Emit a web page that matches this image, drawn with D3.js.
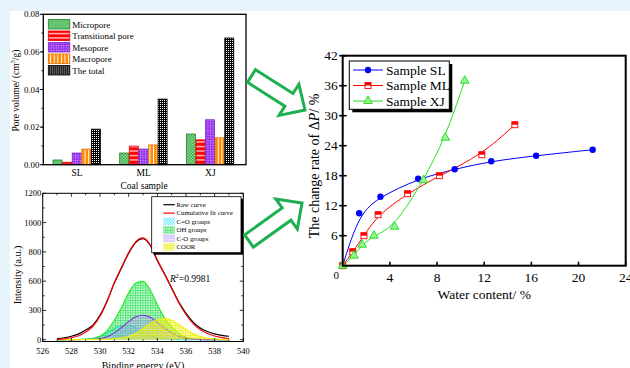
<!DOCTYPE html>
<html>
<head>
<meta charset="utf-8">
<script src="https://cdn.jsdelivr.net/npm/d3@7"></script>
<style>
  body { margin: 0; }
  text { font-family: "Liberation Serif", "Times New Roman", serif; fill: #000; }
</style>
</head>
<body>
<script>
// ---- pore volume bars (top left)
const poreSamples = ["SL", "ML", "XJ"];
const poreTypes = ["Micropore", "Transitional pore", "Mesopore", "Macropore", "The total"];
const micropore = [0.0025, 0.0062, 0.0163];
const transitionalPore = [0.0013, 0.0099, 0.0132];
const mesopore = [0.0062, 0.0083, 0.0239];
const macropore = [0.0083, 0.0105, 0.0143];
const totalPore = [0.0189, 0.0349, 0.0674];
const poreTicks = [0, 0.02, 0.04, 0.06, 0.08];

// ---- XPS O1s fit (bottom left)
const bindingEnergy = [527, 527.5, 528, 528.5, 529, 529.5, 530, 530.5, 531, 531.5, 532, 532.5, 533,
  533.5, 534, 534.5, 535, 535.5, 536, 536.5, 537, 537.5, 538, 538.5, 539];
const rawCurve = [10, 20, 35, 60, 100, 150, 250, 400, 580, 690, 790, 865, 890, 845, 740, 650, 530, 385, 270, 180, 120, 84, 60, 45, 35];
const fitCurve = [4, 9, 20, 40, 78, 138, 240, 395, 585, 695, 795, 870, 895, 848, 745, 648, 525, 378, 258, 165, 103, 64, 38, 22, 12];
const coDouble = [0, 0, 1, 2, 6, 15, 35, 70, 115, 148, 150, 120, 80, 45, 20, 8, 3, 1, 0, 0, 0, 0, 0, 0, 0];
const ohGroups = [0, 0, 0, 1, 3, 9, 35, 95, 200, 330, 480, 580, 598, 510, 360, 225, 128, 62, 26, 9, 3, 1, 0, 0, 0];
const coSingle = [0, 0, 0, 1, 2, 4, 10, 30, 70, 125, 185, 235, 250, 230, 180, 120, 70, 36, 16, 6, 2, 1, 0, 0, 0];
const coorGroups = [1, 1, 1, 1, 2, 3, 4, 6, 10, 18, 35, 65, 115, 165, 205, 220, 200, 155, 105, 62, 32, 15, 7, 3, 1];
const xpsXTicks = [526, 528, 530, 532, 534, 536, 538, 540];
const xpsYTicks = [0, 300, 600, 800, 1000, 1200];

// ---- change rate of dP (right)
const slWater = [0, 1.4, 3.2, 6.4, 9.5, 12.6, 16.4, 21.2];
const slRate = [0, 10.5, 13.8, 17.4, 19.3, 20.9, 22.0, 23.2];
const mlWater = [0, 0.85, 1.8, 3.0, 5.5, 8.2, 11.8, 14.6];
const mlRate = [0, 2.8, 6.0, 10.2, 14.4, 18.0, 22.2, 28.2];
const xjWater = [0, 0.95, 1.65, 2.65, 4.4, 6.85, 8.7, 10.35];
const xjRate = [0, 2.0, 4.2, 6.0, 7.8, 17.1, 25.6, 37.0];
const waterTicks = [4, 8, 12, 16, 20, 24];
const rateTicks = [6, 12, 18, 24, 30, 36, 42];

const svg = d3.select("body").append("svg")
  .attr("width", 630).attr("height", 368);

svg.append("rect").attr("width", 630).attr("height", 368).attr("fill", "#e8f4fc");
svg.append("rect").attr("x", 10).attr("y", 11).attr("width", 620).attr("height", 357).attr("fill", "#fff");

const defs = svg.append("defs");

function makePattern(id, w, h, bg, draw) {
  const p = defs.append("pattern").attr("id", id).attr("patternUnits", "userSpaceOnUse")
    .attr("width", w).attr("height", h);
  if (bg) p.append("rect").attr("width", w).attr("height", h).attr("fill", bg);
  draw(p);
}
// bar patterns
makePattern("pMicro", 3, 3, "#3fae4f", p => {
  p.append("rect").attr("width", 1.5).attr("height", 1.5).attr("fill", "#8fd98f");
  p.append("rect").attr("x", 1.5).attr("y", 1.5).attr("width", 1.5).attr("height", 1.5).attr("fill", "#8fd98f");
});
makePattern("pTrans", 4, 4.5, "#ff0000", p => {
  p.append("rect").attr("y", 2).attr("width", 4).attr("height", 1.1).attr("fill", "#fff");
});
makePattern("pMeso", 2.5, 2.5, "#9933ee", p => {
  p.append("rect").attr("width", 1).attr("height", 1).attr("fill", "#e0c0ff");
});
makePattern("pMacro", 3.6, 4, "#ff8800", p => {
  p.append("rect").attr("x", 1.8).attr("width", 1).attr("height", 4).attr("fill", "#fff");
});
makePattern("pTotal", 2, 2, "#000", p => {
  p.append("rect").attr("width", 1).attr("height", 1).attr("fill", "#fff");
});
// xps patterns
makePattern("xCO2", 3, 3, "rgba(120,240,255,0.35)", p => {
  p.append("path").attr("d", "M0,3L3,0").attr("stroke", "#00d8ff").attr("stroke-width", 0.6);
});
makePattern("xOH", 2.5, 2.5, "rgba(120,240,140,0.35)", p => {
  p.append("path").attr("d", "M0,0.5H2.5M0.5,0V2.5").attr("stroke", "#22dd55").attr("stroke-width", 0.6);
});
makePattern("xCO", 3, 2.5, "rgba(200,170,255,0.25)", p => {
  p.append("path").attr("d", "M0,1H3").attr("stroke", "#9c7cff").attr("stroke-width", 0.6);
});
makePattern("xCOOR", 2.5, 2.5, "rgba(255,255,80,0.35)", p => {
  p.append("path").attr("d", "M0,0.5H2.5M0.5,0V2.5").attr("stroke", "#e8e800").attr("stroke-width", 0.6);
});

// =================== pore volume chart
(function () {
  const left = 43.3, right = 246, top = 14.3, bottom = 164.7;
  const g = svg.append("g");
  const series = [micropore, transitionalPore, mesopore, macropore, totalPore];
  const fills = ["url(#pMicro)", "url(#pTrans)", "url(#pMeso)", "url(#pMacro)", "url(#pTotal)"];
  const strokes = ["#1f7f2a", "#e00000", "#7a22cc", "#e07000", "#000"];

  const x0 = d3.scaleBand().domain(poreSamples).range([left + 0.4, right - 2.3])
    .paddingInner(0.28).paddingOuter(0.14);
  const x1 = d3.scaleBand().domain(poreTypes).range([0, x0.bandwidth()]);
  const y = d3.scaleLinear().domain([0, 0.08]).range([bottom, top]);

  series.forEach(function (vals, k) {
    g.selectAll(".bar" + k)
      .data(vals)
      .enter()
      .append("rect")
      .attr("x", (d, i) => x0(poreSamples[i]) + x1(poreTypes[k]))
      .attr("y", d => y(d))
      .attr("width", x1.bandwidth() - 0.6)
      .attr("height", d => y(0) - y(d))
      .attr("fill", fills[k])
      .attr("stroke", strokes[k])
      .attr("stroke-width", 0.8);
  });

  g.append("rect").attr("x", left).attr("y", top).attr("width", right - left).attr("height", bottom - top)
    .attr("fill", "none").attr("stroke", "#000").attr("stroke-width", 1.3);

  // y axis
  const minor = d3.range(0, 0.0801, 0.01);
  g.selectAll(".ymin").data(minor).enter().append("line")
    .attr("x1", left - 2).attr("x2", left).attr("y1", d => y(d)).attr("y2", d => y(d))
    .attr("stroke", "#000").attr("stroke-width", 0.8);
  g.selectAll(".ymaj").data(poreTicks).enter().append("line")
    .attr("x1", left - 3.5).attr("x2", left).attr("y1", d => y(d)).attr("y2", d => y(d))
    .attr("stroke", "#000").attr("stroke-width", 1);
  g.selectAll(".ylab").data(poreTicks).enter().append("text")
    .attr("x", left - 4).attr("y", d => y(d) + 3).attr("text-anchor", "end")
    .attr("font-size", 8.8).text(d3.format(".2f"));

  g.selectAll(".xlab").data(poreSamples).enter().append("text")
    .attr("x", d => x0(d) + x0.bandwidth() / 2).attr("y", bottom + 11)
    .attr("text-anchor", "middle").attr("font-size", 9.5).text(d => d);

  g.append("text").attr("x", 144).attr("y", 188.5).attr("text-anchor", "middle")
    .attr("font-size", 9.5).text("Coal sample");

  const yt = g.append("text").attr("transform", "translate(18.5,90.5) rotate(-90)")
    .attr("text-anchor", "middle").attr("font-size", 9.5);
  yt.append("tspan").text("Pore volume/ (cm");
  yt.append("tspan").attr("font-size", 6.5).attr("dy", -3.5).text("3");
  yt.append("tspan").attr("dy", 3.5).text("/g)");

  // legend
  const lg = g.selectAll(".leg").data(poreTypes).enter().append("g")
    .attr("transform", (d, i) => `translate(48.3,${19.5 + i * 11.5})`);
  lg.append("rect").attr("width", 21.5).attr("height", 9.5)
    .attr("fill", (d, i) => fills[i]).attr("stroke", (d, i) => strokes[i]).attr("stroke-width", 0.8);
  lg.append("text").attr("x", 24).attr("y", 8).attr("font-size", 9).text(d => d);
})();

// =================== XPS chart
(function () {
  const left = 42.7, right = 243.3, top = 193.3, y0px = 339.7, bottom = 341.5;
  const g = svg.append("g");
  const x = d3.scaleLinear().domain([526, 540]).range([left, right]);
  const step = (y0px - top) / (xpsYTicks.length - 1);
  const y = d3.scaleLinear().domain(xpsYTicks).range(xpsYTicks.map((d, i) => y0px - i * step));

  g.append("clipPath").attr("id", "xpsClip").append("rect")
    .attr("x", left).attr("y", top).attr("width", right - left).attr("height", bottom - top);
  const plot = g.append("g").attr("clip-path", "url(#xpsClip)");

  const comps = [
    { vals: coDouble, fill: "url(#xCO2)", line: "#00e0ff" },
    { vals: ohGroups, fill: "url(#xOH)", line: "#22ee22" },
    { vals: coSingle, fill: "url(#xCO)", line: "#8a2be2" },
    { vals: coorGroups, fill: "url(#xCOOR)", line: "#f0f000" }
  ];
  comps.forEach(function (c) {
    const pts = bindingEnergy.map((e, i) => [e, c.vals[i]]);
    plot.append("path").datum(pts)
      .attr("d", d3.area().x(d => x(d[0])).y0(y(0)).y1(d => y(d[1])).curve(d3.curveMonotoneX))
      .attr("fill", c.fill);
    plot.append("path").datum(pts)
      .attr("d", d3.line().x(d => x(d[0])).y(d => y(d[1])).curve(d3.curveMonotoneX))
      .attr("fill", "none").attr("stroke", c.line).attr("stroke-width", 1.1);
  });
  [[rawCurve, "#000"], [fitCurve, "#ff0000"]].forEach(function (c) {
    const pts = bindingEnergy.map((e, i) => [e, c[0][i]]);
    plot.append("path").datum(pts)
      .attr("d", d3.line().x(d => x(d[0])).y(d => y(d[1])).curve(d3.curveMonotoneX))
      .attr("fill", "none").attr("stroke", c[1]).attr("stroke-width", 1.2);
  });

  g.append("rect").attr("x", left).attr("y", top).attr("width", right - left).attr("height", bottom - top)
    .attr("fill", "none").attr("stroke", "#000").attr("stroke-width", 1);

  // ticks (inward) on all four sides
  const xMinor = d3.range(526, 540.01, 1);
  const tick = (x1, y1, x2, y2) => g.append("line").attr("x1", x1).attr("y1", y1).attr("x2", x2).attr("y2", y2)
    .attr("stroke", "#000").attr("stroke-width", 0.8);
  xMinor.forEach(function (d) {
    const len = xpsXTicks.includes(d) ? 3.5 : 2;
    tick(x(d), bottom, x(d), bottom - len);
    tick(x(d), top, x(d), top + len);
  });
  xpsYTicks.forEach(function (d, i) {
    tick(left, y(d), left + 3.5, y(d));
    tick(right, y(d), right - 3.5, y(d));
    if (i > 0) {
      const m = y0px - (i - 0.5) * step;
      tick(left, m, left + 2, m);
      tick(right, m, right - 2, m);
    }
  });
  g.selectAll(".xl").data(xpsXTicks).enter().append("text")
    .attr("x", d => x(d)).attr("y", 354).attr("text-anchor", "middle").attr("font-size", 8.5).text(d => d);
  g.selectAll(".yl").data(xpsYTicks).enter().append("text")
    .attr("x", left - 1.5).attr("y", d => y(d) + 3).attr("text-anchor", "end").attr("font-size", 8.5).text(d => d);

  g.append("text").attr("x", 143).attr("y", 369).attr("text-anchor", "middle").attr("font-size", 10)
    .text("Binding energy (eV)");
  g.append("text").attr("transform", "translate(21,275) rotate(-90)").attr("text-anchor", "middle")
    .attr("font-size", 10).text("Intensity (a.u.)");

  const r2 = g.append("text").attr("x", 170).attr("y", 281.5).attr("font-size", 9.5);
  r2.append("tspan").attr("font-style", "italic").text("R");
  r2.append("tspan").attr("font-size", 6).attr("dy", -3.5).text("2");
  r2.append("tspan").attr("dy", 3.5).text("=0.9981");

  // legend
  const lx = 151.7, ly = 196.7, lw = 89.3, lh = 56;
  g.append("rect").attr("x", lx + 2).attr("y", ly + 2).attr("width", lw).attr("height", lh).attr("fill", "#000");
  g.append("rect").attr("x", lx).attr("y", ly).attr("width", lw).attr("height", lh)
    .attr("fill", "#fff").attr("stroke", "#000").attr("stroke-width", 0.8);
  const labels = ["Raw curve", "Cumulative fit curve", "C=O groups", "OH groups", "C-O groups", "COOR"];
  const legFill = [null, null, "url(#xCO2)", "url(#xOH)", "url(#xCO)", "url(#xCOOR)"];
  const legLine = ["#000", "#ff0000", "#bff4ff", "#a8f0b8", "#d8ccff", "#fafa90"];
  labels.forEach(function (t, i) {
    const ry = ly + 8 + i * 8.4;
    if (legFill[i]) {
      g.append("rect").attr("x", 163.3).attr("y", ry - 3.6).attr("width", 11.5).attr("height", 7.2)
        .attr("fill", legFill[i]).attr("stroke", legLine[i]).attr("stroke-width", 0.5);
    } else {
      g.append("line").attr("x1", 163.3).attr("x2", 174.8).attr("y1", ry).attr("y2", ry)
        .attr("stroke", legLine[i]).attr("stroke-width", 1.2);
    }
    g.append("text").attr("x", 176.5).attr("y", ry + 2.3).attr("font-size", 6.8).text(t);
  });
})();

// =================== change rate chart
(function () {
  const left = 342.7, right = 625.7, top = 55.7, bottom = 265.7;
  const g = svg.append("g");
  const x = d3.scaleLinear().domain([0, 24]).range([left, right]);
  const y = d3.scaleLinear().domain([0, 42]).range([bottom, top]);

  const samples = [
    { name: "Sample SL", xs: slWater, ys: slRate, color: "#0000ff", mark: "circle" },
    { name: "Sample ML", xs: mlWater, ys: mlRate, color: "#ff0000", mark: "square" },
    { name: "Sample XJ", xs: xjWater, ys: xjRate, color: "#22e022", mark: "triangle" }
  ];

  function marker(sel, s, cx, cy) {
    if (s.mark === "circle") {
      sel.append("circle").attr("cx", cx).attr("cy", cy).attr("r", 3.2).attr("fill", s.color);
    } else if (s.mark === "square") {
      sel.append("rect").attr("x", cx - 3).attr("y", cy - 3).attr("width", 6).attr("height", 6)
        .attr("fill", "#fff").attr("stroke", s.color).attr("stroke-width", 0.9);
      sel.append("rect").attr("x", cx - 3).attr("y", cy - 3).attr("width", 6).attr("height", 3)
        .attr("fill", s.color);
    } else {
      sel.append("path").attr("d", d3.symbol(d3.symbolTriangle, 32)())
        .attr("transform", `translate(${cx},${cy})`)
        .attr("fill", "#9cf59c").attr("stroke", s.color).attr("stroke-width", 1);
    }
  }

  samples.forEach(function (s) {
    const pts = s.xs.map((v, i) => [v, s.ys[i]]);
    g.append("path").datum(pts)
      .attr("d", d3.line().x(d => x(d[0])).y(d => y(d[1])).curve(d3.curveBasis))
      .attr("fill", "none").attr("stroke", s.color).attr("stroke-width", 1);
  });
  samples.forEach(function (s) {
    s.xs.forEach((v, i) => marker(g, s, x(v), y(s.ys[i])));
  });

  g.append("rect").attr("x", left).attr("y", top).attr("width", right - left).attr("height", bottom - top)
    .attr("fill", "none").attr("stroke", "#000").attr("stroke-width", 2);

  g.selectAll(".xt").data(waterTicks).enter().append("line")
    .attr("x1", d => x(d)).attr("x2", d => x(d)).attr("y1", bottom).attr("y2", bottom - 4)
    .attr("stroke", "#000").attr("stroke-width", 1.6);
  g.selectAll(".yt").data(rateTicks).enter().append("line")
    .attr("x1", left - 3.5).attr("x2", left + 4).attr("y1", d => y(d)).attr("y2", d => y(d))
    .attr("stroke", "#000").attr("stroke-width", 1.6);

  g.selectAll(".xl").data(waterTicks).enter().append("text")
    .attr("x", d => x(d)).attr("y", bottom + 16).attr("text-anchor", "middle").attr("font-size", 13.5).text(d => d);
  g.selectAll(".yl").data(rateTicks).enter().append("text")
    .attr("x", left - 5).attr("y", d => y(d) + 4.5).attr("text-anchor", "end").attr("font-size", 13.5).text(d => d);
  g.append("text").attr("x", x(0) - 6.5).attr("y", y(0) + 13).attr("text-anchor", "middle")
    .attr("font-size", 11).text("0");

  g.append("text").attr("x", (left + right) / 2).attr("y", 298.5).attr("text-anchor", "middle")
    .attr("font-size", 13.5).text("Water content/ %");
  const yt = g.append("text").attr("transform", "translate(319,166) rotate(-90)")
    .attr("text-anchor", "middle").attr("font-size", 14);
  yt.append("tspan").text("The change rate of \u0394");
  yt.append("tspan").attr("font-style", "italic").text("P");
  yt.append("tspan").text("/ %");

  // legend
  const lx = 349.3, ly = 61, lw = 100, lh = 48.3;
  g.append("rect").attr("x", lx + 3).attr("y", ly + 3).attr("width", lw).attr("height", lh).attr("fill", "#000");
  g.append("rect").attr("x", lx).attr("y", ly).attr("width", lw).attr("height", lh)
    .attr("fill", "#fff").attr("stroke", "#000").attr("stroke-width", 1);
  samples.forEach(function (s, i) {
    const ry = 70 + i * 15.5;
    g.append("line").attr("x1", 353).attr("x2", 383).attr("y1", ry).attr("y2", ry)
      .attr("stroke", s.color).attr("stroke-width", 1);
    marker(g, s, 368, ry);
    g.append("text").attr("x", 386).attr("y", ry + 4.5).attr("font-size", 13.5).text(s.name);
  });
})();

// =================== hollow green arrows
function blockArrow(x0, y0, x1, y1) {
  const len = Math.hypot(x1 - x0, y1 - y0);
  const ang = Math.atan2(y1 - y0, x1 - x0) * 180 / Math.PI;
  const sw = 7.5, hw = 18.5, hl = 19;
  const pts = [[0, -sw], [len - hl, -sw], [len - hl, -hw], [len, 0], [len - hl, hw], [len - hl, sw], [0, sw]];
  svg.append("polygon")
    .attr("points", pts.map(p => p.join(",")).join(" "))
    .attr("transform", `translate(${x0},${y0}) rotate(${ang})`)
    .attr("fill", "#fff").attr("stroke", "#1cb050").attr("stroke-width", 3)
    .attr("stroke-linejoin", "miter");
}
blockArrow(251.5, 76, 305, 110);
blockArrow(249, 241, 302, 203);
</script>
</body>
</html>
